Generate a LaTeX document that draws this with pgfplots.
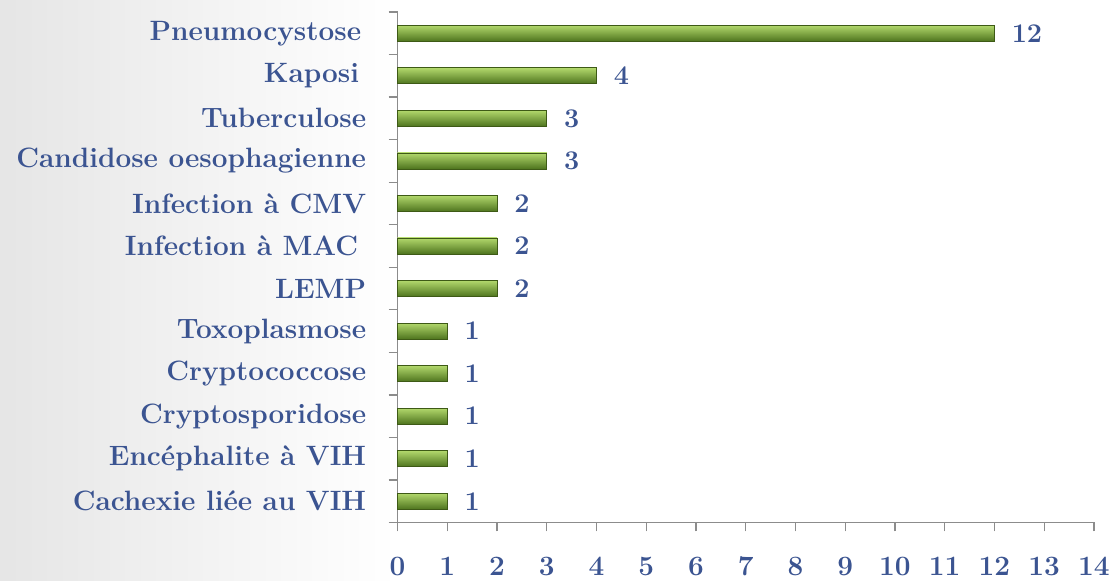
\documentclass[border=0pt]{standalone}
\usepackage{pgfplots}
\pgfplotsset{compat=1.18}
\definecolor{txt}{RGB}{59,84,145}
\definecolor{axg}{RGB}{140,140,140}
\definecolor{barlight}{RGB}{178,216,108}
\definecolor{barmid}{RGB}{130,180,60}
\definecolor{bardark}{RGB}{78,116,30}
\definecolor{barline}{RGB}{62,90,22}
\pgfplotsset{mybar/.style={xbar, bar width=16pt, bar shift=0pt, draw=barline, line width=0.7pt, top color=barlight, middle color=barmid, bottom color=bardark}}
\begin{document}
\begin{tikzpicture}
\fill[white] (-398pt,-58pt) rectangle (715pt,523pt);
\shade[left color=black!10, right color=white] (-398pt,-58pt) rectangle (0pt,523pt);
\begin{axis}[
  at={(0,0)}, anchor=south west,
  scale only axis, width=697pt, height=511pt,
  xmin=0, xmax=14, ymin=-0.5, ymax=11.5,
  xbar, bar width=16pt, bar shift=0pt,
  axis x line*=bottom, axis y line*=left,
  axis line style={draw=axg, line width=1.3pt},
  tick align=outside,
  major tick length=9pt, minor tick length=9pt,
  every tick/.style={draw=axg, line width=1.3pt},
  xtick={0,1,...,14},
  xticklabels={0,1,2,3,4,5,6,7,8,9,10,11,12,13,14},
  ytick={0,1,...,11},
  major y tick style={draw=none},
  minor ytick={-0.5,0.5,...,11.5},
  yticklabels={Cachexie liée au VIH, Encéphalite à VIH, Cryptosporidose, Cryptococcose, Toxoplasmose, LEMP, Infection à MAC\hspace*{8pt}, Infection à CMV, Candidose oesophagienne, Tuberculose, Kaposi\hspace*{7pt}, Pneumocystose\hspace*{5pt}},
  /pgf/number format/assume math mode=true,
  xticklabel style={font=\fontsize{28}{28}\selectfont\bfseries, text=txt, yshift=-22pt},
  yticklabel style={font=\fontsize{28}{28}\selectfont\bfseries, text=txt, xshift=-19pt},
  nodes near coords,
  nodes near coords style={font=\fontsize{27}{27}\selectfont\bfseries, text=txt, anchor=west, inner sep=0pt, xshift=17pt},
  clip=false,
]
\addplot[mybar] coordinates {(1,0)};
\addplot[mybar] coordinates {(1,1)};
\addplot[mybar] coordinates {(1,2)};
\addplot[mybar] coordinates {(1,3)};
\addplot[mybar] coordinates {(1,4)};
\addplot[mybar] coordinates {(2,5)};
\addplot[mybar] coordinates {(2,6)};
\addplot[mybar] coordinates {(2,7)};
\addplot[mybar] coordinates {(3,8)};
\addplot[mybar] coordinates {(3,9)};
\addplot[mybar] coordinates {(4,10)};
\addplot[mybar] coordinates {(12,11)};
\end{axis}
\end{tikzpicture}
\end{document}
